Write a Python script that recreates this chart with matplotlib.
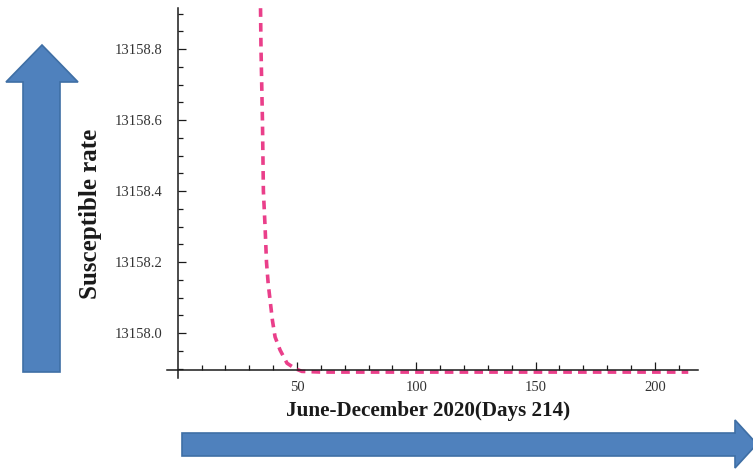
import numpy as np
import matplotlib
matplotlib.use("Agg")
import matplotlib.pyplot as plt
from matplotlib.patches import Polygon
from matplotlib.ticker import FixedLocator, FixedFormatter

# susceptible population over the days of June-December 2020
days = [34.7, 34.9, 35.5, 35.9, 36.6, 37.2, 37.9, 38.7, 39.7, 40.8, 42.9, 45.8, 49.2, 52.0, 60.0, 100.0, 150.0, 214.0]
susceptible = [13158.915, 13158.8, 13158.6, 13158.4, 13158.3, 13158.2, 13158.14, 13158.093, 13158.035,
               13157.989, 13157.952, 13157.915, 13157.900, 13157.892, 13157.890, 13157.890, 13157.890, 13157.890]

x_major = [50, 100, 150, 200]
x_minor = [10, 20, 30, 40, 60, 70, 80, 90, 110, 120, 130, 140, 160, 170, 180, 190, 210]
y_major = [13158.0, 13158.2, 13158.4, 13158.6, 13158.8]
y_major_labels = ["13158.0", "13158.2", "13158.4", "13158.6", "13158.8"]
y_minor = [13157.9, 13157.95, 13158.05, 13158.1, 13158.15, 13158.25, 13158.3, 13158.35, 13158.45,
           13158.5, 13158.55, 13158.65, 13158.7, 13158.75, 13158.85, 13158.9]

serif = "Liberation Serif"

fig = plt.figure(figsize=(7.53, 4.69), dpi=100)

# background layer in pixel coordinates for the two block arrows
bg = fig.add_axes([0, 0, 1, 1], zorder=0)
bg.set_xlim(0, 753)
bg.set_ylim(469, 0)
bg.axis("off")
arrow_fill = "#4f81bd"
arrow_edge = "#3f6fa5"
up_arrow = [(42, 45), (6, 82), (23, 82), (23, 372), (60, 372), (60, 82), (78, 82)]
right_arrow = [(182, 433), (735, 433), (735, 420), (757, 444), (735, 468), (735, 456), (182, 456)]
for pts in (up_arrow, right_arrow):
    bg.add_patch(Polygon(pts, closed=True, facecolor=arrow_fill, edgecolor=arrow_edge, lw=1.2))

ax = fig.add_axes([0.2218, 0.194, 0.7052, 0.7889], zorder=1)
ax.patch.set_alpha(0)
ax.plot(days, susceptible, color="#ea3f8a", lw=2.6, dashes=(2.4, 1.7), clip_on=False)

ax.set_xlim(-4.5, 218.1)
ax.set_ylim(13157.8733, 13158.9155)

# axes cross at the origin like a Mathematica plot
ax.spines["left"].set_position(("data", 0))
ax.spines["bottom"].set_position(("data", 13157.8958))
ax.spines["top"].set_visible(False)
ax.spines["right"].set_visible(False)
for s in ("left", "bottom"):
    ax.spines[s].set_linewidth(1.1)
    ax.spines[s].set_color("#1a1a1a")

ax.xaxis.set_major_locator(FixedLocator(x_major))
ax.xaxis.set_minor_locator(FixedLocator(x_minor))
ax.yaxis.set_major_locator(FixedLocator(y_major))
ax.yaxis.set_major_formatter(FixedFormatter(y_major_labels))
ax.yaxis.set_minor_locator(FixedLocator(y_minor))

ax.tick_params(which="both", direction="in", color="#1a1a1a", width=0.9)
ax.tick_params(which="major", length=5.8)
ax.tick_params(which="minor", length=3.6)
ax.tick_params(axis="y", which="major", pad=10.8, labelsize=10.5, labelcolor="#333333")
ax.tick_params(axis="x", which="major", pad=8, labelsize=10.5, labelcolor="#333333")
for lbl in ax.get_xticklabels() + ax.get_yticklabels():
    lbl.set_fontfamily(serif)

fig.text(428 / 753, 1 - 411 / 469, "June-December 2020(Days 214)", ha="center", va="center",
         fontsize=15.2, fontweight="bold", family=serif, color="#1a1a1a")
fig.text(91 / 753, 1 - 214 / 469, "Susceptible rate", ha="center", va="center", rotation=90,
         fontsize=18, fontweight="bold", family=serif, color="#1a1a1a")

fig.savefig("out.png", dpi=100)
